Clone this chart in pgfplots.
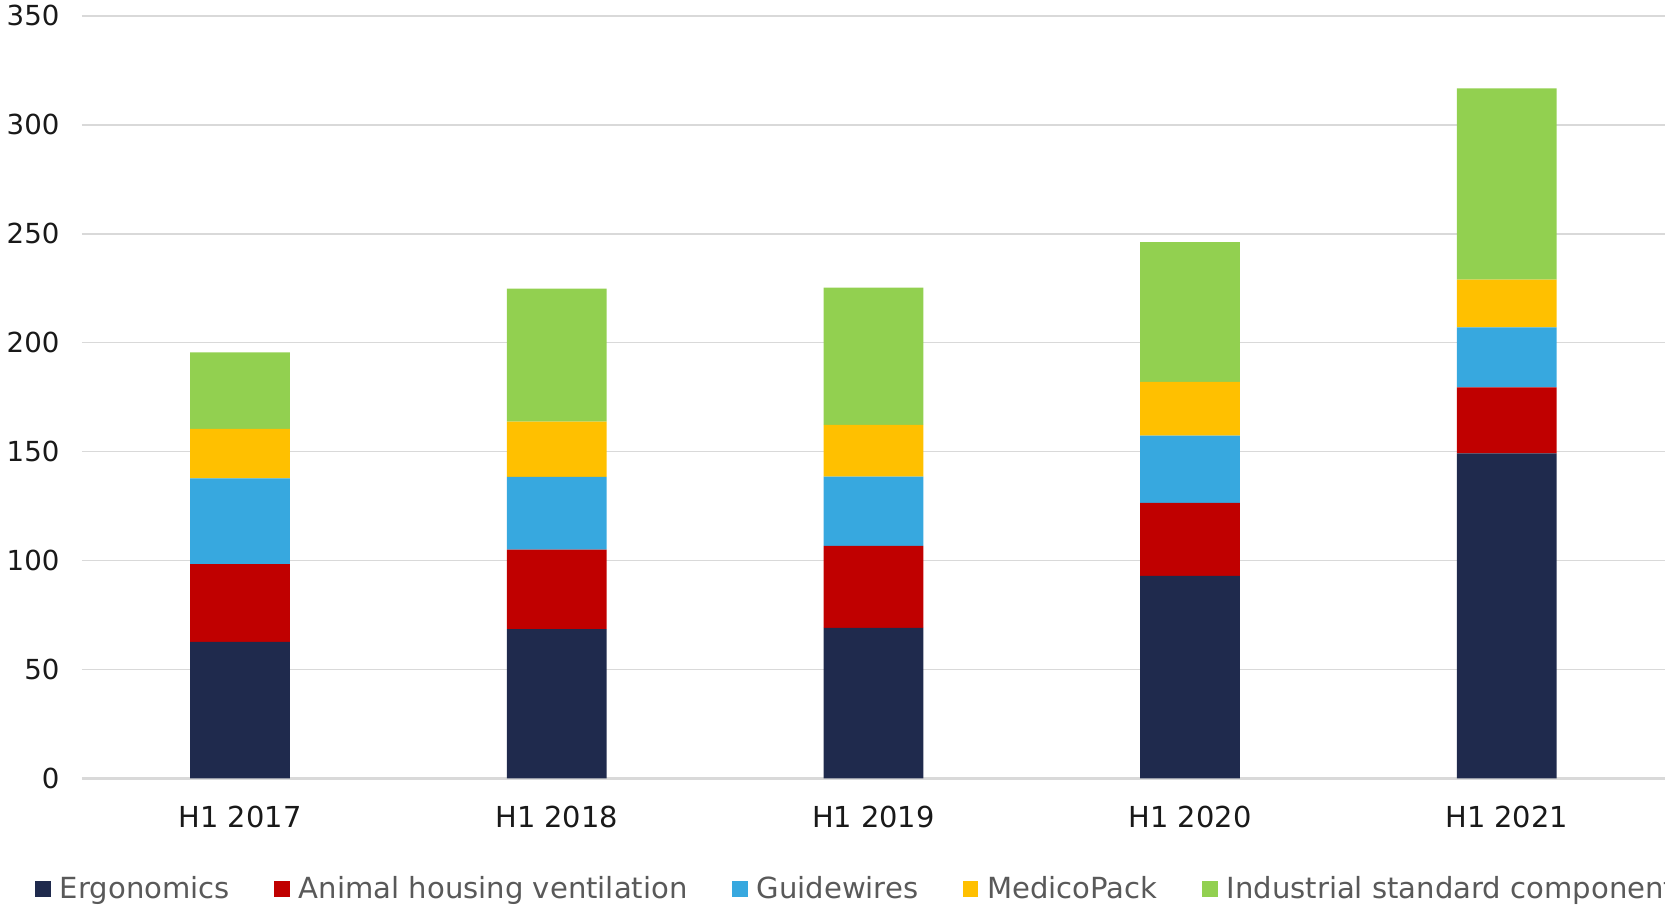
\documentclass[border=0pt]{standalone}
\usepackage{fontspec}
\setmainfont{DejaVu Sans}
\usepackage{pgfplots}
\usepackage{pgfplotstable}
\pgfplotsset{compat=1.18}

\definecolor{cErg}{HTML}{1F2A4D}
\definecolor{cAnim}{HTML}{C00000}
\definecolor{cGuide}{HTML}{37A8DF}
\definecolor{cMed}{HTML}{FFC000}
\definecolor{cInd}{HTML}{92D050}
\definecolor{cGrid}{HTML}{D9D9D9}
\definecolor{cLeg}{HTML}{595959}

% sales by business area, H1 of each year
\pgfplotstableread{
x erg anim guide medico ind
0 62.6 35.7 39.4 22.7 35.1
1 68.5 36.5 33.4 25.4 61.0
2 69.1 37.6 31.8 23.8 63.0
3 92.9 33.5 30.9 24.7 64.2
4 149.2 30.3 27.5 21.9 87.8
}\sales

\pgfplotsset{
  sq legend/.style={legend image code/.code={\fill[##1,draw=none] (0pt,-1.8pt) rectangle (7.3pt,5.5pt);}},
}

\begin{document}
\begin{tikzpicture}
\begin{axis}[
  name=ax,
  ybar stacked,
  scale only axis,
  width=745.5pt,
  height=359pt,
  xmin=-0.5, xmax=4.5,
  ymin=0, ymax=350,
  ytick={0,50,...,350},
  xtick={0,1,2,3,4},
  xticklabels={H1 2017,H1 2018,H1 2019,H1 2020,H1 2021},
  bar width=0.315,
  axis line style={draw=none},
  major tick length=0pt,
  ymajorgrids,
  grid style={cGrid,line width=0.75pt},
  extra y ticks={0},
  extra y tick labels={},
  extra y tick style={grid style={cGrid,line width=1.1pt}},
  /pgf/number format/assume math mode=true,
  tick label style={font=\fontsize{13}{15}\selectfont, text=black!90},
  yticklabel style={anchor=east, xshift=-7pt},
  xticklabel style={yshift=-9.5pt, font=\fontsize{13.6}{16}\selectfont},
  legend columns=-1,
  legend cell align=left,
  legend style={
    at={(-0.0295,-0.1705)}, anchor=south west,
    draw=none, fill=none, inner sep=0pt,
    font=\fontsize{13.7}{16}\selectfont, text=cLeg,
    nodes={text height=0.76em, text depth=0.24em},
    /tikz/every odd column/.append style={column sep=2.2pt},
    /tikz/every even column/.append style={column sep=19pt},
  },
]
\addplot[fill=cErg, draw=none, sq legend] table[x=x, y=erg] {\sales};
\addplot[fill=cAnim, draw=none, sq legend] table[x=x, y=anim] {\sales};
\addplot[fill=cGuide, draw=none, sq legend] table[x=x, y=guide] {\sales};
\addplot[fill=cMed, draw=none, sq legend] table[x=x, y=medico] {\sales};
\addplot[fill=cInd, draw=none, sq legend] table[x=x, y=ind] {\sales};
\legend{Ergonomics,Animal housing ventilation,Guidewires,MedicoPack,Industrial standard components}
\end{axis}
\pgfresetboundingbox
\path[use as bounding box] ([xshift=-38.5pt,yshift=-60.5pt]ax.south west) rectangle ([yshift=7.5pt]ax.north east);
\end{tikzpicture}
\end{document}
